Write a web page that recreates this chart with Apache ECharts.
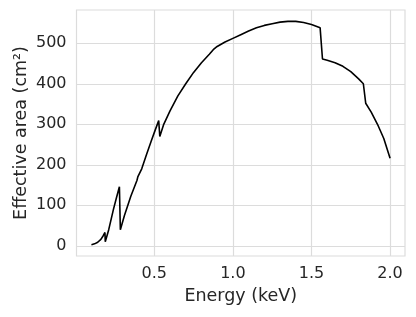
<!DOCTYPE html>
<html>
<head>
<meta charset="utf-8">
<script src="https://cdn.jsdelivr.net/npm/echarts@6/dist/echarts.min.js"></script>
<style>html,body{margin:0;padding:0;background:#fff}#c{width:416px;height:317px}</style>
</head>
<body>
<div id="c"></div>
<script>
const energy = [0.10,0.12,0.14,0.16,0.175,0.186,0.188,0.21,0.24,0.26,0.278,0.284,0.31,0.35,0.39,0.395,0.402,0.42,0.45,0.48,0.505,0.528,0.535,0.56,0.60,0.65,0.70,0.75,0.80,0.85,0.875,0.90,0.95,1.00,1.05,1.10,1.15,1.20,1.25,1.30,1.35,1.40,1.45,1.50,1.555,1.57,1.60,1.65,1.70,1.75,1.80,1.83,1.845,1.88,1.92,1.96,2.00];
const area   = [3,5,9,16,25,33,10,40,90,120,146,40,75,122,162,170,168,190,225,258,285,309,270,300,333,370,400,428,452,473,484,492,503,512,521,530,538,544,548,552,554,554,551,546,538,461,458,452,443,430,412,400,352,330,300,265,216];
const xTicks = [0.5,1.0,1.5,2.0];
const yTicks = [0,100,200,300,400,500];

const txt = '#262626', gridC = '#dcdcdc';
const chart = echarts.init(document.getElementById('c'));
chart.setOption({
  animation:false,
  grid:{left:76.5,right:11,top:10,bottom:61,show:true,borderColor:gridC,borderWidth:1.2,containLabel:false},
  xAxis:{type:'value',min:0.005,max:2.095,
    name:'Energy (keV)',nameLocation:'middle',nameGap:31,
    nameTextStyle:{fontFamily:'DejaVu Sans',fontSize:17.5,color:txt},
    axisLine:{show:false},
    axisTick:{show:false,customValues:xTicks},
    axisLabel:{customValues:xTicks,fontFamily:'DejaVu Sans',fontSize:16,color:txt,margin:10,formatter:v=>v.toFixed(1)},
    splitLine:{show:true,lineStyle:{color:gridC,width:1.2}}},
  yAxis:{type:'value',min:-25,max:582,
    name:'Effective area (cm²)',nameLocation:'middle',nameGap:46,nameRotate:90,nameMoveOverlap:false,
    nameTextStyle:{fontFamily:'DejaVu Sans',fontSize:17.5,color:txt},
    axisLine:{show:false},
    axisTick:{show:false,customValues:yTicks},
    axisLabel:{customValues:yTicks,fontFamily:'DejaVu Sans',fontSize:16,color:txt,margin:10},
    splitLine:{show:true,lineStyle:{color:gridC,width:1.2}}},
  series:[{type:'line',data:energy.map((e,i)=>[e,area[i]]),showSymbol:false,
    lineStyle:{color:'#000',width:1.6},itemStyle:{color:'#000'}}]
});
</script>
</body>
</html>
